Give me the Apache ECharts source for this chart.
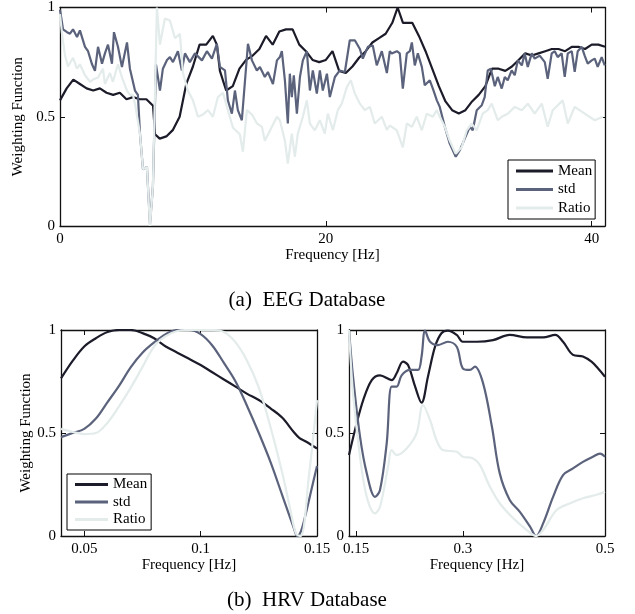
<!DOCTYPE html>
<html>
<head>
<meta charset="utf-8">
<script src="https://cdn.jsdelivr.net/npm/echarts@6/dist/echarts.min.js"></script>
<style>
html,body{margin:0;padding:0;background:#fff;}
#chart{width:635px;height:614px;}
</style>
</head>
<body>
<div id="chart"></div>
<script>
// ---------- EEG (top panel) ----------
const eegMeanF = [0,0.5,1,1.5,2,2.5,3,3.5,4,4.5,5,5.5,6,6.5,7,7.15,7.5,8,8.5,9,9.5,10,10.5,11,11.5,11.8,12.03,12.5,13,13.5,14,14.5,15,15.5,16,16.5,17,17.5,18,18.5,19,19.5,20,20.5,21,21.5,22,22.5,23,23.5,24,24.5,25,25.4,25.8,26.5,27,27.5,28,28.5,29,29.5,30,30.5,31,31.5,32,32.5,33,33.5,34,34.5,35,35.5,36,36.5,37,37.5,38,38.5,39,39.5,40,40.5,41];
const eegMean = [0.575,0.63,0.67,0.65,0.63,0.62,0.63,0.61,0.60,0.61,0.58,0.59,0.58,0.58,0.55,0.42,0.40,0.41,0.44,0.50,0.65,0.73,0.83,0.83,0.87,0.83,0.71,0.62,0.64,0.72,0.76,0.78,0.81,0.87,0.83,0.89,0.90,0.90,0.83,0.80,0.76,0.75,0.76,0.80,0.71,0.70,0.73,0.77,0.80,0.84,0.86,0.88,0.93,1.0,0.93,0.93,0.87,0.80,0.72,0.64,0.57,0.53,0.515,0.53,0.57,0.60,0.64,0.72,0.72,0.71,0.73,0.76,0.79,0.78,0.79,0.80,0.81,0.81,0.80,0.82,0.82,0.81,0.83,0.83,0.82];

const eegStdF = [0,0.23,0.53,0.75,0.98,1.28,1.5,1.88,2.11,2.41,2.63,2.86,3.16,3.38,3.61,3.91,4.06,4.36,4.66,5.04,5.26,5.64,5.86,6.02,6.24,6.54,6.77,6.99,7.22,7.52,7.74,8.05,8.27,8.5,8.87,9.17,9.4,9.77,10.15,10.68,11.05,11.43,11.8,12.03,12.41,12.63,12.93,13.16,13.38,13.68,14.14,14.44,14.81,15.04,15.41,15.64,16.02,16.32,16.54,16.69,16.92,17.14,17.29,17.44,17.59,17.82,18.05,18.27,18.57,18.8,19.02,19.32,19.55,19.77,20.08,20.3,20.68,21.05,21.43,21.8,22.18,22.56,22.78,23.16,23.53,23.83,24.21,24.59,24.81,24.96,25.34,25.56,25.79,26.09,26.32,26.47,26.69,26.92,27.22,27.44,27.82,28.05,28.35,28.57,28.95,29.32,29.77,30.08,30.45,30.83,31.05,31.35,31.73,31.95,32.18,32.41,32.71,32.93,33.23,33.46,33.68,33.98,34.21,34.44,34.74,34.96,35.19,35.49,35.71,36.09,36.47,36.69,36.99,37.22,37.44,37.74,37.97,38.2,38.5,38.72,38.95,39.25,39.47,39.7,40,40.23,40.45,40.75,40.98];
const eegStd = [0.99,0.90,0.887,0.88,0.90,0.865,0.895,0.82,0.80,0.74,0.71,0.82,0.743,0.79,0.83,0.743,0.887,0.82,0.728,0.84,0.72,0.62,0.60,0.42,0.26,0.27,0.01,0.18,0.74,0.62,0.72,0.76,0.773,0.75,0.80,0.712,0.79,0.75,0.79,0.758,0.80,0.766,0.834,0.728,0.712,0.575,0.514,0.62,0.53,0.484,0.834,0.758,0.712,0.728,0.682,0.705,0.65,0.758,0.773,0.80,0.667,0.469,0.697,0.59,0.69,0.514,0.682,0.758,0.80,0.62,0.712,0.606,0.712,0.62,0.697,0.59,0.682,0.712,0.705,0.85,0.85,0.81,0.766,0.82,0.826,0.735,0.80,0.70,0.80,0.79,0.80,0.79,0.629,0.79,0.80,0.84,0.735,0.79,0.728,0.644,0.667,0.629,0.575,0.545,0.454,0.377,0.317,0.347,0.40,0.454,0.438,0.53,0.553,0.59,0.712,0.72,0.64,0.682,0.629,0.682,0.667,0.712,0.69,0.758,0.735,0.79,0.728,0.79,0.766,0.78,0.75,0.674,0.79,0.80,0.773,0.79,0.682,0.79,0.80,0.705,0.80,0.82,0.78,0.743,0.758,0.766,0.728,0.773,0.735];

const eegRatioF = [0,0.15,0.38,0.6,0.98,1.28,1.5,1.88,2.26,2.48,2.86,3.23,3.38,3.76,3.98,4.36,4.66,5.04,5.26,5.49,5.64,6.02,6.24,6.54,6.77,6.99,7.29,7.52,7.89,8.27,8.65,9.02,9.25,9.62,10,10.38,10.75,11.13,11.5,11.88,12.26,12.63,13.01,13.53,13.76,14.06,14.44,14.81,15.19,15.41,15.94,16.32,16.54,16.92,17.14,17.44,17.67,17.89,18.27,18.57,18.8,19.17,19.55,19.92,20.15,20.53,20.9,21.2,21.58,21.88,22.18,22.56,22.93,23.31,23.68,24.21,24.59,24.81,25.34,25.79,26.09,26.47,26.84,27.22,27.59,28.05,28.35,28.57,28.95,29.32,29.77,30.23,30.6,30.98,31.35,31.8,32.18,32.48,32.93,33.23,33.68,34.21,34.74,35.19,35.71,36.24,36.69,37.07,37.82,38.2,38.72,39.47,40.23,40.83];
const eegRatio = [0.97,0.88,0.78,0.73,0.77,0.72,0.74,0.69,0.66,0.67,0.68,0.72,0.65,0.70,0.66,0.74,0.68,0.62,0.60,0.60,0.56,0.42,0.26,0.27,0.0,0.18,1.0,0.83,0.95,0.94,0.86,0.88,0.70,0.62,0.575,0.50,0.51,0.53,0.50,0.59,0.61,0.53,0.45,0.42,0.34,0.53,0.51,0.47,0.454,0.39,0.454,0.50,0.484,0.39,0.286,0.423,0.317,0.423,0.50,0.575,0.469,0.438,0.484,0.423,0.514,0.438,0.53,0.56,0.636,0.667,0.606,0.56,0.53,0.545,0.469,0.50,0.44,0.46,0.438,0.36,0.469,0.454,0.50,0.438,0.514,0.50,0.53,0.50,0.454,0.39,0.33,0.362,0.438,0.469,0.438,0.514,0.53,0.56,0.484,0.50,0.514,0.545,0.53,0.56,0.514,0.56,0.454,0.53,0.575,0.469,0.545,0.514,0.484,0.50];

// ---------- HRV low band (bottom left) ----------
const lfMeanF = [0.04,0.045,0.05,0.055,0.06,0.065,0.07,0.075,0.08,0.085,0.09,0.095,0.1,0.105,0.11,0.115,0.12,0.125,0.13,0.135,0.14,0.1425,0.145,0.15];
const lfMean = [0.765,0.85,0.92,0.96,0.99,1.0,1.0,0.985,0.96,0.92,0.89,0.86,0.83,0.795,0.76,0.725,0.69,0.66,0.62,0.575,0.505,0.475,0.46,0.425];
const lfStdF = [0.04,0.045,0.05,0.055,0.06,0.065,0.07,0.075,0.08,0.085,0.09,0.095,0.1,0.105,0.11,0.115,0.12,0.125,0.13,0.135,0.14,0.1415,0.143,0.145,0.1475,0.15];
const lfStd = [0.48,0.50,0.52,0.57,0.65,0.73,0.82,0.89,0.94,0.98,1.0,1.0,0.98,0.925,0.84,0.75,0.63,0.50,0.36,0.20,0.04,0.0,0.02,0.10,0.22,0.34];
const lfRatioF = [0.04,0.045,0.05,0.055,0.06,0.065,0.07,0.075,0.08,0.085,0.09,0.095,0.1,0.105,0.11,0.115,0.12,0.125,0.13,0.135,0.1385,0.141,0.143,0.1465,0.15];
const lfRatio = [0.52,0.505,0.495,0.50,0.55,0.63,0.72,0.82,0.92,0.97,0.995,1.0,1.0,1.0,0.99,0.94,0.85,0.72,0.53,0.31,0.13,0.01,0.0,0.29,0.66];

// ---------- HRV high band (bottom right) ----------
const hfMeanF = [0.14,0.1508,0.16,0.172,0.1836,0.2,0.207,0.216,0.223,0.233,0.242,0.251,0.261,0.27,0.279,0.2915,0.3,0.32,0.3425,0.366,0.39,0.413,0.43,0.441,0.455,0.469,0.481,0.49,0.5];
const hfMean = [0.393,0.547,0.66,0.757,0.78,0.757,0.79,0.846,0.83,0.725,0.647,0.773,0.919,0.984,0.997,0.976,0.943,0.943,0.951,0.976,0.964,0.964,0.976,0.943,0.879,0.871,0.846,0.814,0.773];
const hfStdF = [0.14,0.1457,0.1555,0.165,0.1766,0.1836,0.193,0.2,0.207,0.214,0.226,0.237,0.242,0.247,0.254,0.265,0.279,0.2915,0.3,0.31,0.317,0.3286,0.341,0.352,0.366,0.38,0.3946,0.403,0.413,0.427,0.441,0.455,0.469,0.483,0.493,0.5];
const hfStd = [1.0,0.773,0.482,0.304,0.19,0.223,0.45,0.725,0.725,0.78,0.806,0.806,0.87,0.997,0.943,0.927,0.943,0.919,0.814,0.806,0.822,0.741,0.53,0.304,0.175,0.118,0.045,0.0,0.061,0.19,0.296,0.328,0.36,0.385,0.40,0.385];
const hfRatioF = [0.14,0.1457,0.1555,0.165,0.1766,0.1836,0.195,0.2,0.207,0.221,0.235,0.244,0.254,0.263,0.272,0.2915,0.3,0.314,0.324,0.338,0.352,0.371,0.39,0.403,0.413,0.432,0.451,0.469,0.488,0.5];
const hfRatio = [1.0,0.69,0.385,0.19,0.11,0.142,0.337,0.417,0.393,0.425,0.498,0.636,0.563,0.466,0.417,0.409,0.385,0.377,0.345,0.24,0.159,0.086,0.029,0.0,0.029,0.126,0.159,0.183,0.2,0.215];

// ---------- ticks / labels ----------
const seriesNames = ['Mean','std','Ratio'];
const yTicks = [0,0.5,1];
const eegXTicks = [0,20,40];
const lfXTicks = [0.05,0.1,0.15];
const hfXTicks = [0.15,0.3,0.5];
const yName = 'Weighting Function';
const xName = 'Frequency [Hz]';
const captionA = '(a)\u00a0\u00a0EEG Database';
const captionB = '(b)\u00a0\u00a0HRV Database';

const colors = {Mean:'#1b1b29', std:'#5b627b', Ratio:'#e3ebeb'};
const FONT = '"Liberation Serif","Times New Roman",serif';
const AX = '#111';

function zip(f, v){ return f.map((x,i)=>[x, v[i]]); }

const grids = [
  {left:60, top:7, width:545, height:219},
  {left:61, top:330, width:256, height:206},
  {left:349, top:330, width:256, height:206}
];
const xRanges = [[0,41,eegXTicks],[0.04,0.15,lfXTicks],[0.14,0.5,hfXTicks]];

const xAxis = [], yAxis = [];
grids.forEach((g, gi)=>{
  const [mn, mx, ticks] = xRanges[gi];
  xAxis.push({
    type:'value', gridIndex:gi, min:mn, max:mx, position:'bottom',
    name: xName, nameLocation:'middle', nameGap: gi===0 ? 22 : 19,
    nameTextStyle:{fontFamily:FONT, fontSize:15, color:'#000'},
    axisLine:{show:true, onZero:false, lineStyle:{color:AX, width:1.3}},
    axisTick:{show:true, inside:true, length:5, customValues:ticks, lineStyle:{color:AX}},
    axisLabel:{show:true, customValues:ticks, margin:6, fontFamily:FONT, fontSize:15, color:'#000',
      formatter:(v)=>String(v)},
    splitLine:{show:false}
  });
  xAxis.push({
    type:'value', gridIndex:gi, min:mn, max:mx, position:'top',
    axisLine:{show:true, onZero:false, lineStyle:{color:AX, width:1.3}},
    axisTick:{show:true, inside:true, length:5, customValues:ticks, lineStyle:{color:AX}},
    axisLabel:{show:false}, splitLine:{show:false}
  });
  yAxis.push({
    type:'value', gridIndex:gi, min:0, max:1, position:'left',
    name: gi===2 ? '' : yName, nameLocation:'middle', nameGap: 25, nameRotate:90,
    nameTextStyle:{fontFamily:FONT, fontSize:15, color:'#000'},
    axisLine:{show:true, onZero:false, lineStyle:{color:AX, width:1.3}},
    axisTick:{show:true, inside:true, length:5, customValues:yTicks, lineStyle:{color:AX}},
    axisLabel:{show:true, customValues:yTicks, margin:5, fontFamily:FONT, fontSize:15, color:'#000',
      formatter:(v)=>String(v)},
    splitLine:{show:false}
  });
  yAxis.push({
    type:'value', gridIndex:gi, min:0, max:1, position:'right',
    axisLine:{show:true, onZero:false, lineStyle:{color:AX, width:1.3}},
    axisTick:{show:true, inside:true, length:5, customValues:yTicks, lineStyle:{color:AX}},
    axisLabel:{show:false}, splitLine:{show:false}
  });
});

const panelData = [
  [zip(eegMeanF,eegMean), zip(eegStdF,eegStd), zip(eegRatioF,eegRatio)],
  [zip(lfMeanF,lfMean), zip(lfStdF,lfStd), zip(lfRatioF,lfRatio)],
  [zip(hfMeanF,hfMean), zip(hfStdF,hfStd), zip(hfRatioF,hfRatio)]
];

const series = [];
panelData.forEach((arr, gi)=>{
  arr.forEach((d, si)=>{
    const nm = seriesNames[si];
    series.push({
      type:'line', name:nm, xAxisIndex:gi*2, yAxisIndex:gi*2, data:d,
      symbol:'none', showSymbol:false, smooth: gi===0 ? false : 0.35,
      color: colors[nm],
      lineStyle:{color:colors[nm], width:2.2},
      itemStyle:{color:colors[nm]},
      z: 2+si, animation:false, clip:true
    });
  });
});

function legendCfg(left, top, itemW, lineH, pad){
  return {
    data: seriesNames, orient:'vertical', left:left, top:top,
    icon:'rect', itemWidth:itemW, itemHeight:3, itemGap:2.5,
    padding:pad, borderColor:'#000', borderWidth:1, backgroundColor:'#fff',
    selectedMode:false,
    textStyle:{fontFamily:FONT, fontSize:15, color:'#000', lineHeight:lineH, padding:[0,0,0,0]}
  };
}

const option = {
  backgroundColor:'#fff',
  animation:false,
  grid: grids.map(g=>Object.assign({containLabel:false}, g)),
  xAxis, yAxis, series,
  legend: [
    legendCfg(508, 160, 37, 16, [3,3,3,8]),
    legendCfg(67, 474, 33, 15, [3,4,3,8])
  ],
  graphic: [
    {type:'text', x:307, y:300, style:{text:captionA, fontFamily:FONT, fontSize:21, fill:'#000', align:'center', verticalAlign:'middle'}},
    {type:'text', x:307, y:600, style:{text:captionB, fontFamily:FONT, fontSize:21, fill:'#000', align:'center', verticalAlign:'middle'}}
  ]
};

const chart = echarts.init(document.getElementById('chart'), null, {renderer:'canvas'});
chart.setOption(option);
</script>
</body>
</html>
